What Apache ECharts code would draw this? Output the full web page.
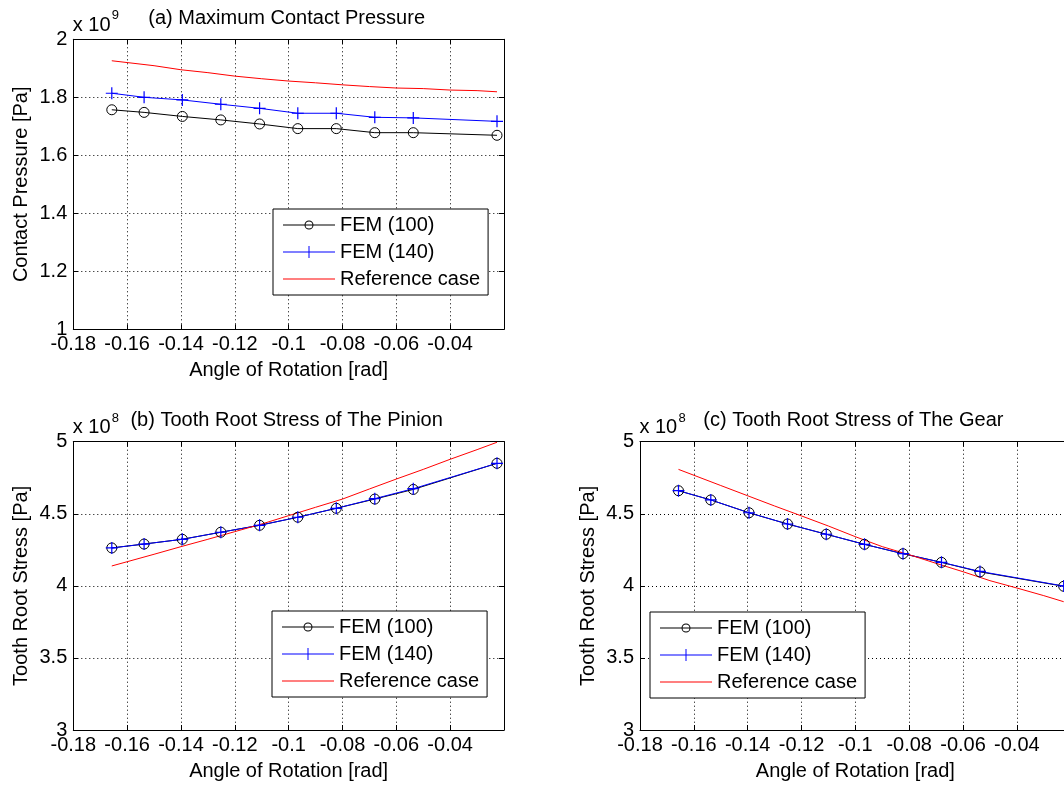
<!DOCTYPE html>
<html>
<head>
<meta charset="utf-8">
<script src="https://cdn.jsdelivr.net/npm/echarts@6/dist/echarts.min.js"></script>
<style>
  html, body { margin: 0; padding: 0; background: #fff; }
  #chart { width: 1064px; height: 785px; }
</style>
</head>
<body>
<div id="chart"></div>
<script>
// angle of rotation [rad] of the FEM samples
const angleFem = [-0.1657, -0.1537, -0.1395, -0.1252, -0.1108, -0.0966, -0.0823, -0.0680, -0.0537, -0.0226];
const angleRef = [-0.1657, -0.15, -0.14, -0.13, -0.12, -0.11, -0.10, -0.09, -0.08, -0.07, -0.06, -0.05, -0.04, -0.03, -0.0226];

// (a) maximum contact pressure, x 10^9 Pa
const pressFem100 = [1.757, 1.748, 1.734, 1.722, 1.708, 1.692, 1.692, 1.678, 1.678, 1.669];
const pressFem140 = [1.814, 1.800, 1.791, 1.776, 1.762, 1.745, 1.745, 1.731, 1.729, 1.717];
const pressRef = [1.926, 1.909, 1.895, 1.885, 1.873, 1.864, 1.856, 1.850, 1.843, 1.837, 1.832, 1.830, 1.825, 1.823, 1.819];

// (b) tooth root stress of the pinion, x 10^8 Pa
const pinionFem100 = [4.263, 4.290, 4.323, 4.372, 4.420, 4.476, 4.538, 4.602, 4.669, 4.850];
const pinionFem140 = [4.263, 4.290, 4.323, 4.372, 4.420, 4.476, 4.538, 4.605, 4.674, 4.850];
const pinionRef = [4.138, 4.219, 4.272, 4.323, 4.376, 4.429, 4.487, 4.545, 4.602, 4.672, 4.741, 4.808, 4.878, 4.945, 4.996];

// (c) tooth root stress of the gear, x 10^8 Pa
const gearFem100 = [4.660, 4.596, 4.507, 4.429, 4.358, 4.288, 4.223, 4.163, 4.097, 3.997];
const gearFem140 = [4.660, 4.596, 4.507, 4.429, 4.358, 4.288, 4.223, 4.163, 4.100, 3.999];
const gearRef = [4.808, 4.696, 4.625, 4.554, 4.485, 4.415, 4.341, 4.272, 4.216, 4.156, 4.098, 4.036, 3.985, 3.932, 3.890];

const seriesNames = ['FEM (100)', 'FEM (140)', 'Reference case'];
const xMin = -0.18, xMax = -0.02, xStep = 0.02;

const font = '"Liberation Sans", Arial, Helvetica, sans-serif';
const plotWidth = 430.7;

const panels = [
  { title: '(a) Maximum Contact Pressure', yName: 'Contact Pressure [Pa]', power: '9',
    yMin: 1, yMax: 2, yStep: 0.2, left: 73.3, top: 39.3, height: 290,
    fem100: pressFem100, fem140: pressFem140, ref: pressRef, legendAt: [273, 209] },
  { title: '(b) Tooth Root Stress of The Pinion', yName: 'Tooth Root Stress [Pa]', power: '8',
    yMin: 3, yMax: 5, yStep: 0.5, left: 73.3, top: 441.7, height: 288.3,
    fem100: pinionFem100, fem140: pinionFem140, ref: pinionRef, legendAt: [272, 611] },
  { title: '(c) Tooth Root Stress of The Gear', yName: 'Tooth Root Stress [Pa]', power: '8',
    yMin: 3, yMax: 5, yStep: 0.5, left: 640, top: 441.7, height: 288.3,
    fem100: gearFem100, fem140: gearFem140, ref: gearRef, legendAt: [650, 612] }
];

const pts = (xs, ys) => xs.map((x, i) => [x, ys[i]]);

const plusPath = 'path://M4.5,0H5.5V4.5H10V5.5H5.5V10H4.5V5.5H0V4.5H4.5Z';
const iconCircle = 'path://M0,5.5H52V6.5H0Z M30.5,6A4.5,4.5 0 1 1 21.5,6A4.5,4.5 0 1 1 30.5,6Z M29.5,6A3.5,3.5 0 1 0 22.5,6A3.5,3.5 0 1 0 29.5,6Z';
const iconPlus = 'path://M0,5.5H52V6.5H0Z M25.5,0H26.5V12H25.5Z';
const iconLine = 'path://M0,5.5H52V6.5H0Z';

const txt = { fontFamily: font, fontSize: 20, color: '#000' };
const black = { color: '#000', width: 1 };
const dotted = { color: '#000', width: 1, type: [1, 3] };

let grid = [], xAxis = [], yAxis = [], series = [], legend = [], graphic = [];

panels.forEach((p, i) => {
  // keep the plot box where it is even if labels run past the page edge
  grid.push({ left: p.left, top: p.top, width: plotWidth, height: p.height, outerBoundsMode: 'none' });

  xAxis.push({
    gridIndex: i, type: 'value', position: 'bottom', min: xMin, max: xMax, interval: xStep,
    name: 'Angle of Rotation [rad]', nameLocation: 'middle', nameGap: 31, nameTextStyle: txt,
    axisLine: { onZero: false, lineStyle: black },
    axisTick: { inside: true, length: 5, lineStyle: black },
    axisLabel: Object.assign({ margin: 5, showMaxLabel: false,
      formatter: v => String(+v.toFixed(3)) }, txt),
    splitLine: { show: true, lineStyle: dotted }
  });
  xAxis.push({
    gridIndex: i, type: 'value', position: 'top', min: xMin, max: xMax, interval: xStep,
    axisLine: { onZero: false, lineStyle: black },
    axisTick: { inside: true, length: 5, lineStyle: black },
    axisLabel: { show: false }, splitLine: { show: false }
  });

  yAxis.push({
    gridIndex: i, type: 'value', position: 'left', min: p.yMin, max: p.yMax, interval: p.yStep,
    name: p.yName, nameLocation: 'middle', nameGap: 42, nameTextStyle: txt,
    axisLine: { onZero: false, lineStyle: black },
    axisTick: { inside: true, length: 5, lineStyle: black },
    axisLabel: Object.assign({ margin: 6, formatter: v => String(+v.toFixed(2)) }, txt),
    splitLine: { show: true, lineStyle: dotted }
  });
  yAxis.push({
    gridIndex: i, type: 'value', position: 'right', min: p.yMin, max: p.yMax, interval: p.yStep,
    axisLine: { onZero: false, lineStyle: black },
    axisTick: { inside: true, length: 5, lineStyle: black },
    axisLabel: { show: false }, splitLine: { show: false }
  });

  series.push({
    type: 'line', name: seriesNames[0], xAxisIndex: 2 * i, yAxisIndex: 2 * i,
    data: pts(angleFem, p.fem100), symbol: 'circle', symbolSize: 10, showAllSymbol: true,
    lineStyle: { color: '#000', width: 1 },
    itemStyle: { color: 'none', borderColor: '#000', borderWidth: 1 }
  });
  series.push({
    type: 'line', name: seriesNames[1], xAxisIndex: 2 * i, yAxisIndex: 2 * i,
    data: pts(angleFem, p.fem140), symbol: plusPath, symbolSize: 12, showAllSymbol: true,
    lineStyle: { color: '#0000ff', width: 1 },
    itemStyle: { color: '#0000ff', borderWidth: 0 }
  });
  series.push({
    type: 'line', name: seriesNames[2], xAxisIndex: 2 * i, yAxisIndex: 2 * i,
    data: pts(angleRef, p.ref), symbol: 'none', showSymbol: false,
    lineStyle: { color: '#ff0000', width: 1 }
  });

  legend.push({
    left: p.legendAt[0], top: p.legendAt[1], orient: 'vertical',
    itemWidth: 52, itemHeight: 12, itemGap: 7, padding: [6, 8, 6, 10],
    borderColor: '#000', borderWidth: 1, backgroundColor: '#fff',
    selectedMode: false, textStyle: txt, itemStyle: { borderWidth: 0 },
    data: [
      { name: seriesNames[0], icon: iconCircle, itemStyle: { color: '#000' } },
      { name: seriesNames[1], icon: iconPlus, itemStyle: { color: '#0000ff' } },
      { name: seriesNames[2], icon: iconLine, itemStyle: { color: '#ff0000' } }
    ]
  });

  graphic.push(
    { type: 'text', x: p.left + plotWidth / 2 - 2, y: p.top - 31,
      style: { text: p.title, font: '20px ' + font, fill: '#000', align: 'center', verticalAlign: 'top' } },
    { type: 'text', x: p.left - 0.6, y: p.top - 24,
      style: { text: 'x 10', font: '20px ' + font, fill: '#000', align: 'left', verticalAlign: 'top' } },
    { type: 'text', x: p.left + 38.5, y: p.top - 30,
      style: { text: p.power, font: '13px ' + font, fill: '#000', align: 'left', verticalAlign: 'top' } }
  );
});

const chart = echarts.init(document.getElementById('chart'));
chart.setOption({
  animation: false,
  backgroundColor: '#fff',
  grid, xAxis, yAxis, series, legend, graphic
});
</script>
</body>
</html>
